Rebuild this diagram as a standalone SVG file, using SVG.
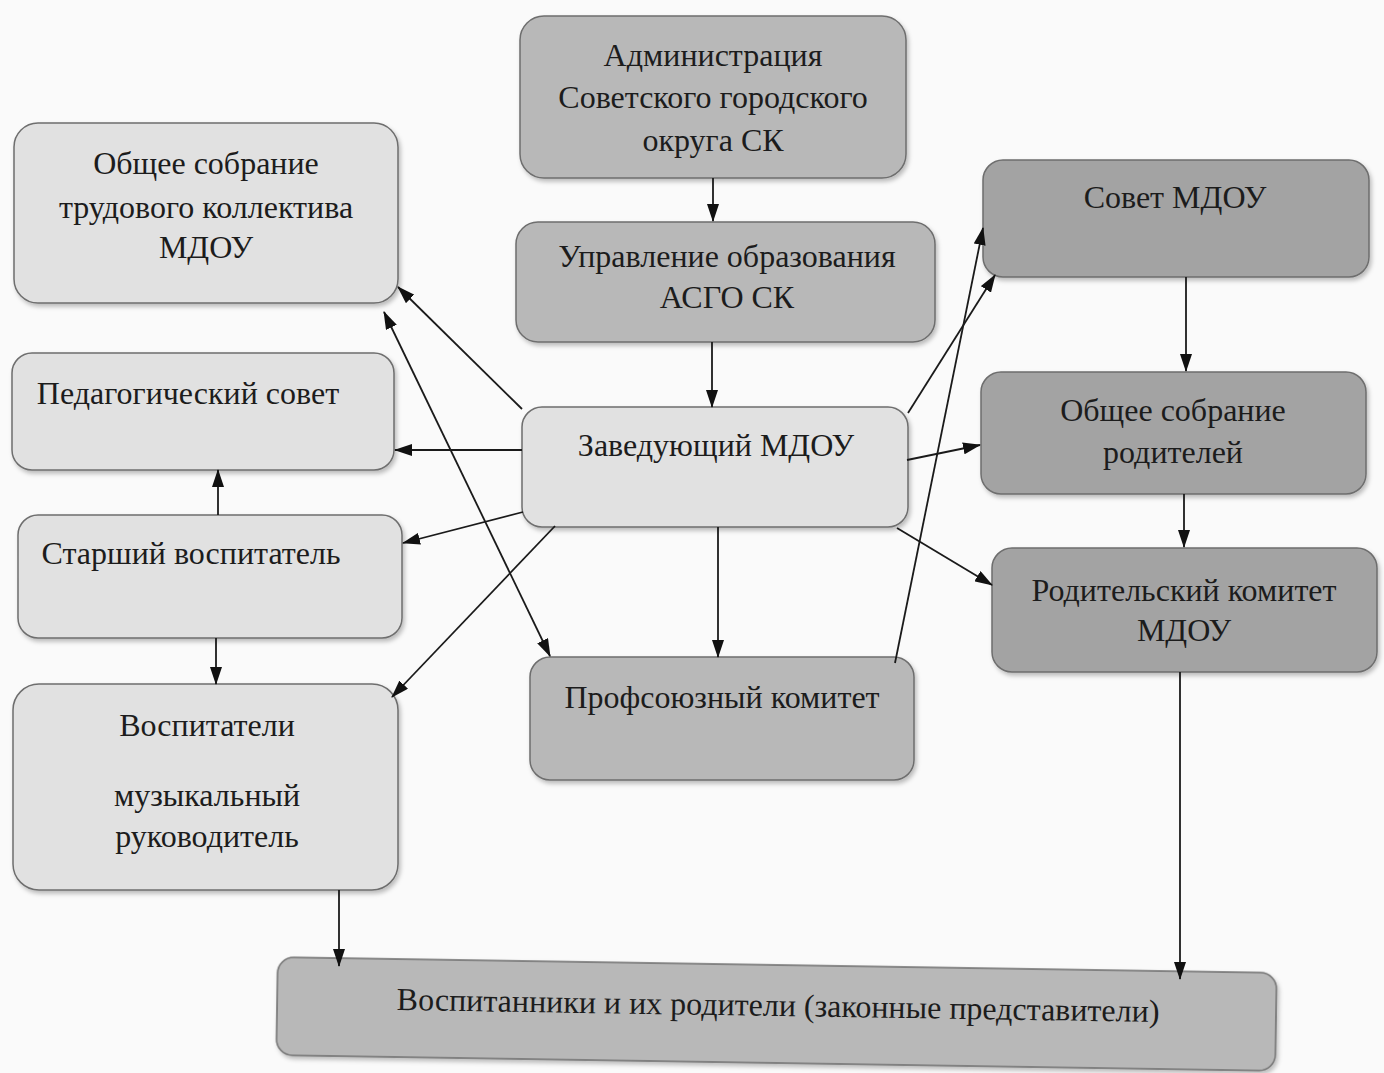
<svg xmlns="http://www.w3.org/2000/svg" width="1384" height="1073" viewBox="0 0 1384 1073">
<style>
  .box { stroke: #6e6e6e; stroke-width: 1.5; }
  .light { fill: #e1e1e1; }
  .mid { fill: #b8b8b8; }
  .dark { fill: #a3a3a3; }
  .t { font-family: "Liberation Serif", "Times New Roman", serif; font-size: 32px; fill: #1c1c1c; text-anchor: middle; }
  .c line { stroke: #1a1a1a; stroke-width: 1.8; }
</style>
<defs>
  <marker id="ah" viewBox="0 0 18 12" refX="17" refY="6" markerWidth="18" markerHeight="12" markerUnits="userSpaceOnUse" orient="auto-start-reverse">
    <path d="M0,0 L18,6 L0,12 z" fill="#111"/>
  </marker>
  <filter id="sh" x="-5%" y="-5%" width="110%" height="115%">
    <feDropShadow dx="2" dy="3" stdDeviation="2" flood-color="#000" flood-opacity="0.25"/>
  </filter>
</defs>
<rect width="1384" height="1073" fill="#fafafa"/>

<g id="admin"><rect class="box mid" x="520" y="16" width="386" height="162" rx="24" filter="url(#sh)"/>
<text class="t" x="713" y="66">Администрация</text>
<text class="t" x="713" y="108">Советского городского</text>
<text class="t" x="713" y="151">округа СК</text></g>

<g id="trud"><rect class="box light" x="14" y="123" width="384" height="180" rx="24" filter="url(#sh)"/>
<text class="t" x="206" y="174">Общее собрание</text>
<text class="t" x="206" y="218">трудового коллектива</text>
<text class="t" x="206" y="258">МДОУ</text></g>

<g id="upravlenie"><rect class="box mid" x="516" y="222" width="419" height="120" rx="22" filter="url(#sh)"/>
<text class="t" x="727" y="267">Управление образования</text>
<text class="t" x="727" y="308">АСГО СК</text></g>

<g id="sovet"><rect class="box dark" x="983" y="160" width="386" height="117" rx="20" filter="url(#sh)"/>
<text class="t" x="1175" y="208">Совет МДОУ</text></g>

<g id="pedsovet"><rect class="box light" x="12" y="353" width="382" height="117" rx="20" filter="url(#sh)"/>
<text class="t" x="188" y="404">Педагогический совет</text></g>

<g id="zaved"><rect class="box light" x="522" y="407" width="386" height="120" rx="20" filter="url(#sh)"/>
<text class="t" x="716" y="456">Заведующий МДОУ</text></g>

<g id="roditelei"><rect class="box dark" x="981" y="372" width="385" height="122" rx="20" filter="url(#sh)"/>
<text class="t" x="1173" y="421">Общее собрание</text>
<text class="t" x="1173" y="463">родителей</text></g>

<g id="starshiy"><rect class="box light" x="18" y="515" width="384" height="123" rx="20" filter="url(#sh)"/>
<text class="t" x="191" y="564">Старший воспитатель</text></g>

<g id="rodkom"><rect class="box dark" x="992" y="548" width="385" height="124" rx="20" filter="url(#sh)"/>
<text class="t" x="1184" y="601">Родительский комитет</text>
<text class="t" x="1184" y="641">МДОУ</text></g>

<g id="profsoyuz"><rect class="box mid" x="530" y="657" width="384" height="123" rx="20" filter="url(#sh)"/>
<text class="t" x="722" y="708">Профсоюзный комитет</text></g>

<g id="vospitateli"><rect class="box light" x="13" y="684" width="385" height="206" rx="26" filter="url(#sh)"/>
<text class="t" x="207" y="736">Воспитатели</text>
<text class="t" x="207" y="806">музыкальный</text>
<text class="t" x="207" y="847">руководитель</text></g>

<g id="vospitanniki" transform="rotate(0.9 777 1013)"><rect class="box mid" x="277" y="965" width="999" height="98" rx="16" filter="url(#sh)"/>
<text class="t" x="778" y="1016">Воспитанники и их родители (законные представители)</text></g>

<g id="connectors" class="c">
  <line x1="713" y1="178" x2="713" y2="221" marker-end="url(#ah)"/>
  <line x1="712" y1="342" x2="712" y2="407" marker-end="url(#ah)"/>
  <line x1="522" y1="409" x2="398" y2="287" marker-end="url(#ah)"/>
  <line x1="384" y1="312" x2="550" y2="656" marker-start="url(#ah)" marker-end="url(#ah)"/>
  <line x1="522" y1="450" x2="395" y2="450" marker-end="url(#ah)"/>
  <line x1="523" y1="512" x2="403" y2="543" marker-end="url(#ah)"/>
  <line x1="555" y1="526" x2="392" y2="697" marker-end="url(#ah)"/>
  <line x1="718" y1="527" x2="718" y2="657" marker-end="url(#ah)"/>
  <line x1="907" y1="460" x2="980" y2="445" marker-end="url(#ah)"/>
  <line x1="897" y1="528" x2="992" y2="585" marker-end="url(#ah)"/>
  <line x1="908" y1="413" x2="995" y2="275" marker-end="url(#ah)"/>
  <line x1="895" y1="663" x2="983" y2="228" marker-end="url(#ah)"/>
  <line x1="1186" y1="277" x2="1186" y2="371" marker-end="url(#ah)"/>
  <line x1="1184" y1="494" x2="1184" y2="547" marker-end="url(#ah)"/>
  <line x1="1180" y1="672" x2="1180" y2="979" marker-end="url(#ah)"/>
  <line x1="218" y1="515" x2="218" y2="470" marker-end="url(#ah)"/>
  <line x1="216" y1="638" x2="216" y2="684" marker-end="url(#ah)"/>
  <line x1="339" y1="890" x2="339" y2="966" marker-end="url(#ah)"/>
</g>
</svg>
